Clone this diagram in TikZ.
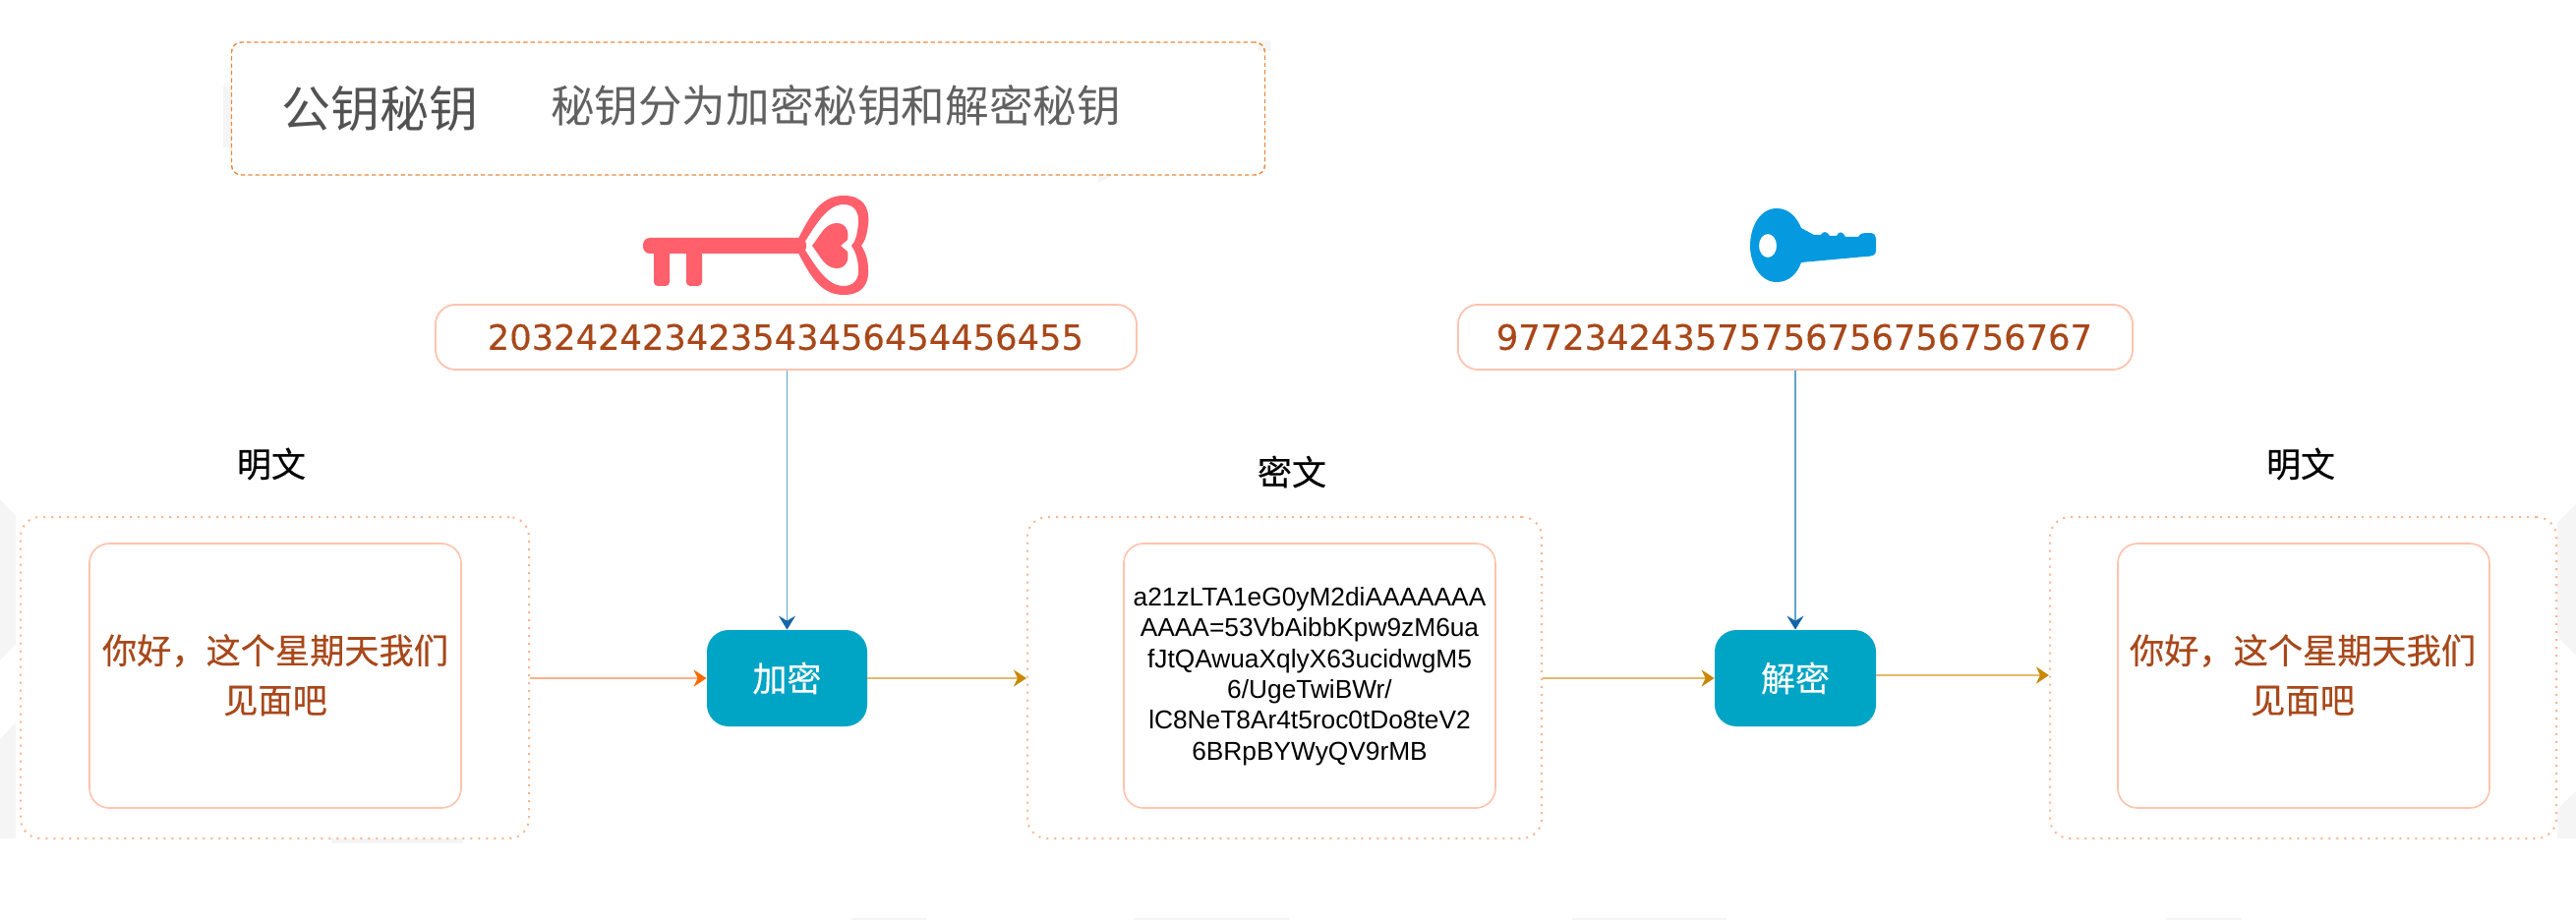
\documentclass[tikz,border=0pt]{standalone}
\usepackage{fontspec}
\setmainfont{Liberation Sans}
\newfontfamily\cjk{Noto Sans CJK SC}
\newfontfamily\cjkb[FakeBold=0.35]{Noto Sans CJK SC}
\newfontfamily\dejavu[FakeBold=0.3]{DejaVu Sans}
\usetikzlibrary{arrows.meta}
\definecolor{dotorange}{HTML}{FFB48C}
\definecolor{dashorange}{HTML}{E98A3C}
\definecolor{boxedge}{HTML}{FFC3AE}
\definecolor{rust}{HTML}{A8481A}
\definecolor{teal}{HTML}{00A4C4}
\definecolor{keyred}{HTML}{FF606C}
\definecolor{keyblue}{HTML}{0599E0}
\definecolor{bluelink}{HTML}{5CA5CF}
\definecolor{bluetip}{HTML}{1465A5}
\definecolor{orangelink}{HTML}{FFB08C}
\definecolor{orangetip}{HTML}{FF6A00}
\definecolor{goldlink}{HTML}{E3B96A}
\definecolor{goldtip}{HTML}{C98800}
\definecolor{faint}{HTML}{F5F5F5}
\tikzset{
  x=0.5pt,y=-0.5pt,
  cjkpx/.style={font=\cjk\fontsize{#1}{#1}\selectfont,inner sep=0pt},
  cjkbpx/.style={font=\cjkb\fontsize{#1}{#1}\selectfont,inner sep=0pt},
  digits/.style={font=\dejavu\fontsize{17.65pt}{20pt}\selectfont,text=rust,inner sep=0pt},
  outerbox/.style={draw=dotorange,line width=1pt,dash pattern=on 1pt off 3pt,rounded corners=10pt,minimum width=#1,minimum height=163.5pt},
  innerbox/.style={draw=boxedge,line width=0.8pt,rounded corners=10pt,fill=white,minimum width=189pt,minimum height=134.5pt,align=center},
  keybox/.style={draw=boxedge,line width=0.9pt,rounded corners=10pt,fill=white,minimum height=33pt,text=rust},
  procbox/.style={fill=teal,rounded corners=11pt,text=white,minimum height=49pt},
  blueflow/.style={draw=bluelink,line width=0.6pt,-{Stealth[length=7pt,width=8.5pt,inset=2.5pt,color=bluetip]}},
  orangeflow/.style={draw=orangelink,line width=1pt,-{Stealth[length=6.5pt,width=8.5pt,inset=2pt,color=orangetip]}},
  goldflow/.style={draw=goldlink,line width=1pt,-{Stealth[length=6.5pt,width=8.5pt,inset=2pt,color=goldtip]}},
}
\begin{document}
\begin{tikzpicture}
\fill[white] (0,0) rectangle (2620,936);
\useasboundingbox (0,0) rectangle (2620,936);
% faint background remnants
\fill[faint] (0,508) -- (16,525) -- (16,655) -- (0,672) -- cycle;
\fill[faint] (0,752) -- (16,735) -- (16,853) -- (0,853) -- cycle;
\fill[faint] (2620,513) -- (2601,532) -- (2601,648) -- (2620,667) -- cycle;
\fill[faint] (2620,805) -- (2601,823) -- (2601,853) -- (2620,853) -- cycle;
\fill[faint] (337,853) rectangle (471,858);
\fill[faint] (866,934) rectangle (943,936);
\fill[faint] (1153,934) rectangle (1311,936);
\fill[faint] (1599,934) rectangle (1756,936);
\fill[faint] (2203,934) rectangle (2280,936);
\fill[faint] (227,88) rectangle (236,150);
\fill[faint] (1280,41) rectangle (1292,52);
\fill[faint] (1117,178) -- (1132,178) -- (1117,186) -- cycle;
% header
\node[draw=dashorange,line width=0.7pt,dash pattern=on 2.2pt off 1.5pt,rounded corners=5pt,minimum width=525.5pt,minimum height=67.5pt] (head) at (761,110.5) {};
\node[text=black!68,cjkpx=25pt] (ttl) at (386,111) {公钥秘钥};
\node[text=black!62,cjkpx=22.3pt] (sub) at (850,107) {秘钥分为加密秘钥和解密秘钥};
% red key
\fill[keyred,rounded corners=3.5pt] (654,242) rectangle (820,258);
\fill[keyred,rounded corners=2pt] (665,250) rectangle (681,291);
\fill[keyred,rounded corners=2pt] (698,250) rectangle (714,291);
\fill[keyred,even odd rule]
  (808,250) .. controls (822,224) and (832,199) .. (858,199) .. controls (878,199) and (885,212) .. (883,228) .. controls (882,238) and (880,245) .. (876,250) .. controls (880,256) and (883,264) .. (883,274) .. controls (884,291) and (875,300) .. (858,300) .. controls (832,300) and (822,276) .. (808,250) -- cycle
  (816,250) .. controls (828,232) and (840,208) .. (858,208) .. controls (870,208) and (874,217) .. (873,228) .. controls (872,238) and (870,246) .. (866,250) .. controls (870,256) and (873,264) .. (873,274) .. controls (874,284) and (868,291) .. (858,291) .. controls (840,291) and (828,268) .. (816,250) -- cycle;
\fill[keyred]
  (826,250) .. controls (834,240) and (839,227) .. (851,227) .. controls (860,227) and (864,235) .. (862,244) -- (855,250) -- (862,256) .. controls (864,265) and (860,273) .. (851,273) .. controls (839,273) and (834,260) .. (826,250) -- cycle;
% blue key
\fill[keyblue,even odd rule]
  (1807,212) .. controls (1820,212) and (1828,222) .. (1832,232) -- (1845,239) -- (1852,239) .. controls (1854,235) and (1858,235) .. (1861,240) -- (1868,240) .. controls (1870,235) and (1874,235) .. (1877,241) -- (1890,241) .. controls (1892,237) and (1895,237) .. (1903,237) .. controls (1907,238) and (1908,240) .. (1908,243) -- (1908,255) .. controls (1908,259) and (1905,261) .. (1897,261) -- (1832,267) .. controls (1828,278) and (1820,287) .. (1807,287) .. controls (1790,287) and (1780,268) .. (1780,250) .. controls (1780,231) and (1790,212) .. (1807,212) -- cycle
  (1798,238) .. controls (1803,238) and (1807,243) .. (1807,250) .. controls (1807,257) and (1803,262) .. (1798,262) .. controls (1793,262) and (1789,257) .. (1789,250) .. controls (1789,243) and (1793,238) .. (1798,238) -- cycle;
% key values
\node[keybox,minimum width=356.5pt] (k1) at (799.5,343) {};
\node[digits] (k1t) at (799,343) {203242423423543456454456455};
\node[keybox,minimum width=343pt] (k2) at (1826,343) {};
\node[digits] (k2t) at (1825,343) {977234243575756756756756767};
% outer boxes
\node[outerbox=258.5pt] (o1) at (279.5,689.5) {};
\node[outerbox=261.5pt] (o2) at (1306.5,689.5) {};
\node[outerbox=257.5pt] (o3) at (2342.5,689.5) {};
% inner boxes
\node[innerbox] (i1) at (280,687.5) {};
\node[innerbox] (i2) at (1332,687.5) {};
\node[innerbox] (i3) at (2343,687.5) {};
\node[cjkbpx=17.6pt,text=rust] (t1a) at (280,662) {你好，这个星期天我们};
\node[cjkbpx=17.6pt,text=rust] (t1b) at (280,713) {见面吧};
\node[cjkbpx=17.6pt,text=rust] (t3a) at (2342,662) {你好，这个星期天我们};
\node[cjkbpx=17.6pt,text=rust] (t3b) at (2342,713) {见面吧};
\node[align=center,inner sep=0pt,text=black,font=\fontsize{13.15pt}{15.7pt}\selectfont] (cipher) at (1332,688) {a21zLTA1eG0yM2diAAAAAAA\\AAAA=53VbAibbKpw9zM6ua\\fJtQAwuaXqlyX63ucidwgM5\\6/UgeTwiBWr/\\lC8NeT8Ar4t5roc0tDo8teV2\\6BRpBYWyQV9rMB};
% labels
\node[cjkbpx=17.5pt,text=black] (l1) at (276,472) {明文};
\node[cjkbpx=17.5pt,text=black] (l2) at (1314,480) {密文};
\node[cjkbpx=17.5pt,text=black] (l3) at (2340,472) {明文};
% process
\node[procbox,minimum width=81.5pt,font=\cjkb\fontsize{17.5pt}{17.5pt}\selectfont] (enc) at (800.5,690) {加密};
\node[procbox,minimum width=82pt,font=\cjkb\fontsize{17.5pt}{17.5pt}\selectfont] (dec) at (1826,690) {解密};
% connectors
\draw[blueflow] (k1.south -| enc.north) -- (enc.north);
\draw[blueflow] (k2.south) -- (dec.north);
\draw[orangeflow] (o1.east |- enc.west) -- (enc.west);
\draw[goldflow] (enc.east) -- (o2.west |- enc.east);
\draw[goldflow] (o2.east |- dec.west) -- (dec.west);
\coordinate (d1) at (1908,687);
\draw[goldflow] (d1) -- (o3.west |- d1);
\end{tikzpicture}
\end{document}
